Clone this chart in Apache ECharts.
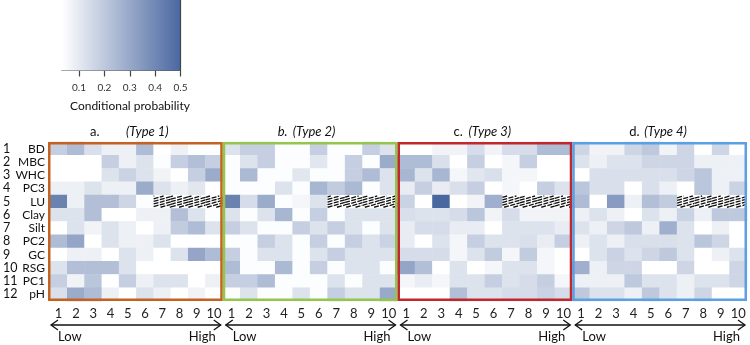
<!DOCTYPE html>
<html><head><meta charset="utf-8">
<script src="https://cdn.jsdelivr.net/npm/echarts@6/dist/echarts.min.js"></script>
<style>html,body{margin:0;padding:0;background:#fff}#c{width:750px;height:345px}</style>
</head><body><div id="c"></div>
<script>
// ---------------- data ----------------
const rowNums = [1,2,3,4,5,6,7,8,9,10,11,12];
const rowNames = ['BD','MBC','WHC','PC3','LU','Clay','Silt','PC2','GC','RSG','PC1','pH'];
const binLabels = ['1','2','3','4','5','6','7','8','9','10'];
const panelLetters = ['a.','b.','c.','d.'];
const panelTypes = ['(Type 1)','(Type 2)','(Type 3)','(Type 4)'];
const lowLabel = 'Low';
const highLabel = 'High';
const colorbarTitle = 'Conditional probability';
const colorbarTicks = [0.1,0.2,0.3,0.4,0.5];
const colorbarMin = 0.033;
const colorbarMax = 0.5;
const hatchRow = 'LU';
const hatchBins = ['7','8','9','10'];

const valuesType1 = [
  [0.18,0.24,0.13,0.08,0.08,0.24,0.03,0.08,0.04,0.04],
  [0.03,0.03,0.03,0.18,0.08,0.12,0.04,0.18,0.23,0.18],
  [0.03,0.03,0.03,0.12,0.17,0.12,0.07,0.03,0.18,0.29],
  [0.08,0.08,0.12,0.08,0.08,0.29,0.12,0.08,0.11,0.03],
  [0.42,0.08,0.23,0.23,0.16,0.04,null,null,null,null],
  [0.12,0.12,0.23,0.03,0.03,0.08,0.08,0.23,0.12,0.04],
  [0.03,0.12,0.07,0.12,0.08,0.03,0.08,0.19,0.24,0.12],
  [0.24,0.31,0.03,0.12,0.08,0.08,0.12,0.03,0.03,0.03],
  [0.03,0.08,0.08,0.03,0.12,0.08,0.03,0.12,0.31,0.24],
  [0.12,0.23,0.23,0.23,0.12,0.03,0.03,0.03,0.03,0.03],
  [0.18,0.07,0.21,0.03,0.18,0.08,0.12,0.12,0.03,0.08],
  [0.13,0.29,0.24,0.08,0.03,0.12,0.08,0.03,0.07,0.03]
];
const valuesType2 = [
  [0.12,0.18,0.18,0.04,0.04,0.18,0.04,0.04,0.18,0.12],
  [0.04,0.12,0.18,0.04,0.04,0.11,0.04,0.18,0.04,0.29],
  [0.04,0.25,0.04,0.04,0.11,0.04,0.04,0.18,0.24,0.12],
  [0.04,0.04,0.04,0.12,0.04,0.26,0.19,0.25,0.04,0.12],
  [0.42,0.14,0.29,0.04,0.06,0.12,null,null,null,null],
  [0.12,0.04,0.12,0.26,0.04,0.18,0.04,0.12,0.12,0.12],
  [0.18,0.12,0.04,0.04,0.18,0.12,0.18,0.12,0.04,0.12],
  [0.04,0.04,0.18,0.12,0.04,0.18,0.04,0.18,0.12,0.17],
  [0.18,0.04,0.12,0.12,0.04,0.12,0.18,0.12,0.12,0.12],
  [0.24,0.04,0.04,0.25,0.04,0.18,0.04,0.12,0.12,0.04],
  [0.18,0.18,0.24,0.04,0.04,0.04,0.12,0.04,0.12,0.12],
  [0.04,0.12,0.04,0.04,0.12,0.04,0.18,0.12,0.12,0.30]
];
const valuesType3 = [
  [0.03,0.03,0.07,0.07,0.14,0.07,0.14,0.14,0.24,0.24],
  [0.24,0.24,0.13,0.03,0.18,0.03,0.06,0.18,0.03,0.03],
  [0.26,0.12,0.26,0.06,0.11,0.13,0.06,0.06,0.03,0.03],
  [0.09,0.18,0.09,0.13,0.18,0.03,0.06,0.03,0.18,0.12],
  [0.17,0.03,0.50,0.03,0.07,0.28,null,null,null,null],
  [0.13,0.12,0.12,0.14,0.21,0.07,0.14,0.07,0.07,0.07],
  [0.09,0.14,0.14,0.09,0.09,0.03,0.12,0.12,0.12,0.09],
  [0.09,0.03,0.12,0.06,0.18,0.12,0.12,0.13,0.09,0.18],
  [0.14,0.14,0.14,0.06,0.12,0.19,0.06,0.19,0.06,0.03],
  [0.31,0.23,0.03,0.12,0.03,0.06,0.12,0.12,0.06,0.03],
  [0.06,0.09,0.06,0.12,0.12,0.18,0.12,0.14,0.18,0.06],
  [0.03,0.03,0.03,0.23,0.12,0.12,0.14,0.14,0.17,0.14]
];
const valuesType4 = [
  [0.16,0.07,0.07,0.16,0.20,0.07,0.16,0.03,0.16,0.03],
  [0.12,0.08,0.12,0.12,0.16,0.16,0.16,0.08,0.08,0.08],
  [0.03,0.13,0.13,0.13,0.13,0.13,0.16,0.21,0.08,0.08],
  [0.21,0.13,0.13,0.03,0.13,0.08,0.03,0.21,0.08,0.17],
  [0.24,0.03,0.34,0.08,0.23,0.19,null,null,null,null],
  [0.08,0.12,0.08,0.03,0.12,0.08,0.17,0.08,0.20,0.20],
  [0.12,0.08,0.16,0.20,0.08,0.28,0.12,0.03,0.08,0.03],
  [0.08,0.12,0.08,0.13,0.13,0.13,0.12,0.21,0.16,0.03],
  [0.03,0.12,0.17,0.12,0.16,0.20,0.12,0.03,0.08,0.12],
  [0.28,0.08,0.16,0.16,0.03,0.03,0.16,0.03,0.03,0.16],
  [0.08,0.08,0.08,0.20,0.12,0.12,0.08,0.12,0.12,0.16],
  [0.20,0.12,0.12,0.08,0.20,0.12,0.08,0.16,0.03,0.03]
];
const panelValues = [valuesType1, valuesType2, valuesType3, valuesType4];

// ---------------- layout / style ----------------
const FONT = 'Lato, "Liberation Sans", sans-serif';
const PANEL_LEFT = 48, PANEL_W = 174.75, PANEL_TOP = 142, PANEL_H = 159;
const borderColors = ['#c4621f', '#92c74c', '#c0282d', '#5c9fe2'];
const letterItalic = [false, true, false, false];
const letterOffset = [42, 55, 56, 57];
const typeOffset = [78, 70, 71, 72];
const LOW_C = '#ffffff', HIGH_C = '#4a68a0';

const chart = echarts.init(document.getElementById('c'), null, {renderer: 'canvas'});

const grids = [], xAxes = [], yAxes = [], series = [], graphics = [];
for (let p = 0; p < 4; p++) {
  const left = PANEL_LEFT + p * PANEL_W;
  grids.push({left: left, top: PANEL_TOP, width: PANEL_W, height: PANEL_H});
  xAxes.push({
    gridIndex: p, type: 'category', data: binLabels, position: 'bottom',
    axisLine: {show: false}, axisTick: {show: false}, splitLine: {show: false},
    axisLabel: {interval: 0, fontSize: 13, color: '#222', margin: 6, fontFamily: FONT}
  });
  yAxes.push({
    gridIndex: p, type: 'category', data: rowNames, inverse: true,
    axisLine: {show: false}, axisTick: {show: false}, splitLine: {show: false},
    axisLabel: p === 0 ? {
      show: true, interval: 0, margin: 5, color: '#111', fontFamily: FONT, fontSize: 12,
      formatter: (v, i) => '{n|' + rowNums[i] + '}{s|' + v + '}',
      rich: {
        n: {width: 15, align: 'left', fontSize: 12.5, fontFamily: FONT, color: '#111'},
        s: {width: 27, align: 'right', fontSize: 12, fontFamily: FONT, color: '#111'}
      }
    } : {show: false}
  });
  const data = [];
  const vals = panelValues[p];
  for (let r = 0; r < rowNames.length; r++) {
    for (let b = 0; b < binLabels.length; b++) {
      if (vals[r][b] !== null) data.push([b, r, vals[r][b]]);
    }
  }
  series.push({
    type: 'heatmap', xAxisIndex: p, yAxisIndex: p, data: data,
    itemStyle: {borderWidth: 0}, emphasis: {disabled: true}, silent: true
  });

  // border
  graphics.push({
    type: 'rect', z: 100, silent: true,
    shape: {x: left + 1.25, y: PANEL_TOP + 1.25, width: PANEL_W - 2.5, height: PANEL_H - 2.5},
    style: {fill: 'none', stroke: borderColors[p], lineWidth: 2.5}
  });
  // titles
  graphics.push({
    type: 'text', z: 100, silent: true, x: left + letterOffset[p], y: 132,
    style: {text: panelLetters[p], font: (letterItalic[p] ? 'italic ' : '') + '13px ' + FONT, fill: '#111', verticalAlign: 'middle'}
  });
  graphics.push({
    type: 'text', z: 100, silent: true, x: left + typeOffset[p], y: 132,
    style: {text: panelTypes[p], font: 'italic 13px ' + FONT, fill: '#111', verticalAlign: 'middle'}
  });
  // arrow
  const ay = 325, ax1 = left + 3, ax2 = left + PANEL_W - 2;
  graphics.push({type: 'line', silent: true, shape: {x1: ax1, y1: ay, x2: ax2, y2: ay}, style: {stroke: '#111', lineWidth: 1.3}});
  graphics.push({type: 'polyline', silent: true, shape: {points: [[ax1 + 7, ay - 5], [ax1, ay], [ax1 + 7, ay + 5]]}, style: {stroke: '#111', lineWidth: 1.3, fill: 'none'}});
  graphics.push({type: 'polyline', silent: true, shape: {points: [[ax2 - 7, ay - 5], [ax2, ay], [ax2 - 7, ay + 5]]}, style: {stroke: '#111', lineWidth: 1.3, fill: 'none'}});
  graphics.push({type: 'text', silent: true, x: left + 10, y: 337, style: {text: lowLabel, font: '13px ' + FONT, fill: '#111', verticalAlign: 'middle'}});
  graphics.push({type: 'text', silent: true, x: left + PANEL_W - 7, y: 337, style: {text: highLabel, font: '13px ' + FONT, fill: '#111', verticalAlign: 'middle', align: 'right'}});
}

// hatch series (not-available cells)
const hatchData = hatchBins.map(b => [binLabels.indexOf(b), rowNames.indexOf(hatchRow)]);
function renderHatch(params, api) {
  const c = api.coord([api.value(0), api.value(1)]);
  const s = api.size([1, 1]);
  const x1 = c[0] - s[0] / 2, x2 = c[0] + s[0] / 2;
  const y1 = c[1] - s[1] / 2 + 1, y2 = c[1] + s[1] / 2 - 1;
  const children = [{type: 'rect', shape: {x: x1, y: y1 - 1, width: x2 - x1, height: y2 - y1 + 2}, style: {fill: '#ffffff'}}];
  const k = 0.28, sp = 2.6;
  const j0 = Math.ceil((y1 + k * x1) / sp), j1 = Math.floor((y2 + k * x2) / sp);
  for (let j = j0; j <= j1; j++) {
    const c0 = j * sp;
    const xa = Math.max(x1, (c0 - y2) / k), xb = Math.min(x2, (c0 - y1) / k);
    if (xb > xa) {
      children.push({type: 'line', shape: {x1: xa, y1: c0 - k * xa, x2: xb, y2: c0 - k * xb},
        style: {stroke: '#111', lineWidth: 1.3, lineDash: [5, 1.4]}});
    }
  }
  return {type: 'group', children: children};
}
for (let p = 0; p < 4; p++) {
  series.push({type: 'custom', xAxisIndex: p, yAxisIndex: p, data: hatchData, renderItem: renderHatch, silent: true, z: 5});
}

// colorbar grid
grids.push({left: 62, top: 0, width: 118.5, height: 70.5});
xAxes.push({
  gridIndex: 4, type: 'value', min: colorbarMin, max: colorbarMax, position: 'bottom',
  axisLine: {show: true, lineStyle: {color: '#555', width: 1.2}},
  axisTick: {show: true, customValues: colorbarTicks, length: 6, lineStyle: {color: '#444', width: 1.2}},
  axisLabel: {customValues: colorbarTicks, fontSize: 10, color: '#333', margin: 12, fontFamily: FONT, formatter: v => v.toFixed(1)},
  splitLine: {show: false}
});
yAxes.push({gridIndex: 4, type: 'value', min: 0, max: 1, show: false});
series.push({
  type: 'custom', xAxisIndex: 4, yAxisIndex: 4, data: [[colorbarMin, colorbarMax]], silent: true,
  renderItem: function (params, api) {
    const p1 = api.coord([api.value(0), 1]);
    const p2 = api.coord([api.value(1), 0]);
    return {type: 'group', children: [
      {type: 'rect', shape: {x: p1[0], y: p1[1], width: p2[0] - p1[0], height: p2[1] - p1[1]},
        style: {fill: new echarts.graphic.LinearGradient(0, 0, 1, 0, [{offset: 0, color: LOW_C}, {offset: 1, color: HIGH_C}])}},
      {type: 'line', shape: {x1: p2[0], y1: p1[1], x2: p2[0], y2: p2[1]}, style: {stroke: '#444', lineWidth: 1.2}}
    ]};
  }
});
graphics.push({type: 'text', silent: true, x: 70, y: 106, style: {text: colorbarTitle, font: '12px ' + FONT, fill: '#111', verticalAlign: 'middle'}});

chart.setOption({
  animation: false,
  backgroundColor: '#ffffff',
  textStyle: {fontFamily: FONT},
  grid: grids, xAxis: xAxes, yAxis: yAxes,
  visualMap: {
    type: 'continuous', show: false, min: colorbarMin, max: colorbarMax, dimension: 2,
    seriesIndex: [0, 1, 2, 3], inRange: {color: [LOW_C, HIGH_C]}
  },
  series: series,
  graphic: graphics
});
</script>
</body></html>
